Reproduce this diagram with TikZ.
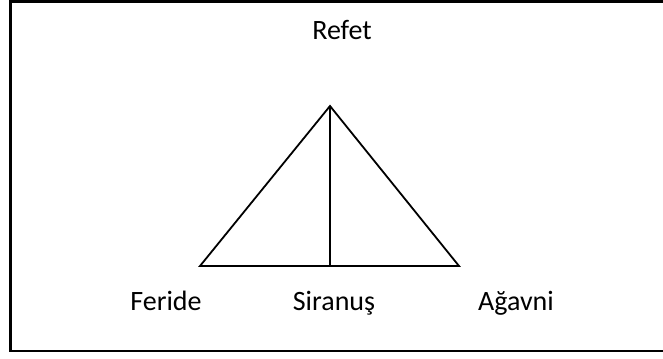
\documentclass[tikz,border=0pt]{standalone}
\usepackage{fontspec}
\setmainfont{Carlito}
\usetikzlibrary{positioning}

\tikzset{
  person/.style={font=\fontsize{21}{25}\selectfont, inner sep=0pt, anchor=base},
  edge/.style={black, line width=1.35pt, line join=miter},
}

\begin{document}
\begin{tikzpicture}[x=0.75pt, y=-0.75pt]
  \useasboundingbox (0,0) rectangle (663,358);
  % Frame
  \draw[line width=1.6pt] (10.5,1.5) rectangle (666,351);

  % Triangle corners
  \coordinate (top) at (330,106);
  \coordinate (left) at (200,266);
  \coordinate (right) at (459,266);
  \coordinate (mid) at (330,266);

  % Sides
  \draw[edge] (left) -- (top) -- (right) -- cycle;
  \draw[edge] (top) -- (mid);

  % Names
  \node[person] (refet) at (342,39) {Refet};
  \node[person] (feride) at (166,310) {Feride};
  \node[person] (siranus) at (334,310) {Siranuş};
  \node[person] (agavni) at (516,310) {Ağavni};
\end{tikzpicture}
\end{document}
